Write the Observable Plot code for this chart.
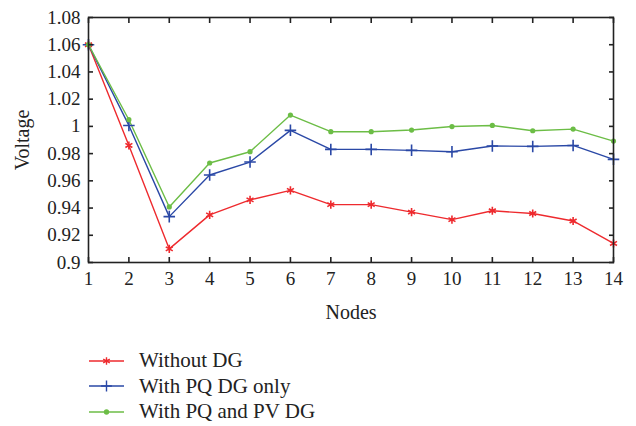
<!DOCTYPE html>
<html>
<head>
<meta charset="utf-8">
<script src="https://cdn.jsdelivr.net/npm/d3@7"></script>
<script src="https://cdn.jsdelivr.net/npm/@observablehq/plot@0.6"></script>
<style>
  html, body { margin: 0; padding: 0; background: #fff; }
  #chart svg { display: block; }
  #legend { margin-top: 18px; padding-left: 89px; font-family: "Liberation Serif", "DejaVu Serif", serif; font-size: 21px; color: #222; }
  .row { display: flex; align-items: center; height: 25.5px; }
  .row svg { display: block; margin-right: 15px; }
</style>
</head>
<body>
<div id="chart"></div>
<div id="legend"></div>
<script>
const nodes = [1, 2, 3, 4, 5, 6, 7, 8, 9, 10, 11, 12, 13, 14];
const withoutDG = [1.06, 0.986, 0.910, 0.935, 0.946, 0.953, 0.9425, 0.9425, 0.937, 0.9315, 0.938, 0.936, 0.9305, 0.914];
const withPQOnly = [1.06, 1.0007, 0.9337, 0.9643, 0.9738, 0.9971, 0.9831, 0.9831, 0.9824, 0.9814, 0.9856, 0.9853, 0.986, 0.9758];
const withPQPV = [1.06, 1.0049, 0.9408, 0.9731, 0.9814, 1.0083, 0.9961, 0.9961, 0.9973, 0.9999, 1.0007, 0.9968, 0.998, 0.9892];
const seriesNames = ["Without DG", "With PQ DG only", "With PQ and PV DG"];
const seriesColors = ["#ee2a2e", "#2a48a6", "#6cbd46"];
const seriesSymbols = ["asterisk", "plus", "circle"];
const yTicks = [0.9, 0.92, 0.94, 0.96, 0.98, 1, 1.02, 1.04, 1.06, 1.08];
const yTickLabels = ["0.9", "0.92", "0.94", "0.96", "0.98", "1", "1.02", "1.04", "1.06", "1.08"];

const allSeries = [withoutDG, withPQOnly, withPQPV];
const data = allSeries.flatMap((vals, i) =>
  vals.map((v, j) => ({ node: nodes[j], voltage: v, series: seriesNames[i] }))
);

const font = "Liberation Serif";
const ink = "#222";
const perSeries = (i) => data.filter(d => d.series === seriesNames[i]);

const marks = [];
seriesNames.forEach((name, i) => {
  marks.push(Plot.line(perSeries(i), { x: "node", y: "voltage", stroke: seriesColors[i], strokeWidth: 1.4 }));
});
seriesNames.forEach((name, i) => {
  const sym = seriesSymbols[i];
  marks.push(Plot.dot(perSeries(i), {
    x: "node", y: "voltage", symbol: () => sym,
    r: sym === "circle" ? 2.6 : 3.8,
    stroke: seriesColors[i],
    fill: sym === "circle" ? seriesColors[i] : "none",
    strokeWidth: sym === "circle" ? 0 : 1.6
  }));
});

const chart = Plot.plot({
  width: 636,
  height: 330,
  marginTop: 17,
  marginBottom: 68,
  marginLeft: 88,
  marginRight: 23,
  style: { fontFamily: font, fontSize: "19px", color: ink, background: "#fff" },
  symbol: { type: "identity" },
  x: { domain: [1, 14] },
  y: { domain: [0.9, 1.08] },
  marks: [
    ...marks,
    Plot.frame({ stroke: ink, strokeWidth: 1.6 }),
    // tick labels
    Plot.axisX({ anchor: "bottom", ticks: nodes, tickSize: 0, tickPadding: 9, tickFormat: d => String(d), fontSize: 19, label: null }),
    Plot.axisY({ anchor: "left", ticks: yTicks, tickSize: 0, tickPadding: 8, tickFormat: d => yTickLabels[yTicks.indexOf(d)] ?? "", fontSize: 19, label: null }),
    // axis titles
    Plot.axisX({ anchor: "bottom", ticks: [], tickSize: 0, fontSize: 20, label: "Nodes", labelArrow: "none", labelAnchor: "center", labelOffset: 56 }),
    Plot.axisY({ anchor: "left", ticks: [], tickSize: 0, fontSize: 20, label: "Voltage", labelArrow: "none", labelAnchor: "center", labelOffset: 74 }),
    // inward ticks on all four sides
    Plot.axisX({ anchor: "bottom", ticks: nodes, tickSize: -5, tickFormat: () => "", label: null, strokeWidth: 1.6 }),
    Plot.axisX({ anchor: "top", ticks: nodes, tickSize: -5, tickFormat: () => "", label: null, strokeWidth: 1.6 }),
    Plot.axisY({ anchor: "left", ticks: yTicks, tickSize: -5, tickFormat: () => "", label: null, strokeWidth: 1.6 }),
    Plot.axisY({ anchor: "right", ticks: yTicks, tickSize: -5, tickFormat: () => "", label: null, strokeWidth: 1.6 })
  ]
});
document.getElementById("chart").appendChild(chart);

// Legend (HTML) below the chart
const legend = d3.select("#legend");
seriesNames.forEach((name, i) => {
  const row = legend.append("div").attr("class", "row");
  const s = row.append("svg").attr("width", 35).attr("height", 12);
  s.append("line").attr("x1", 0).attr("x2", 35).attr("y1", 6).attr("y2", 6)
    .attr("stroke", seriesColors[i]).attr("stroke-width", 1.4);
  const symType = { asterisk: d3.symbolAsterisk, plus: d3.symbolPlus, circle: d3.symbolCircle }[seriesSymbols[i]];
  const size = seriesSymbols[i] === "circle" ? 22 : 40;
  s.append("path").attr("transform", "translate(17.5,6)")
    .attr("d", d3.symbol(symType, size)())
    .attr("fill", seriesSymbols[i] === "circle" ? seriesColors[i] : "none")
    .attr("stroke", seriesSymbols[i] === "circle" ? "none" : seriesColors[i])
    .attr("stroke-width", 1.4);
  row.append("span").text(name);
});
</script>
</body>
</html>
